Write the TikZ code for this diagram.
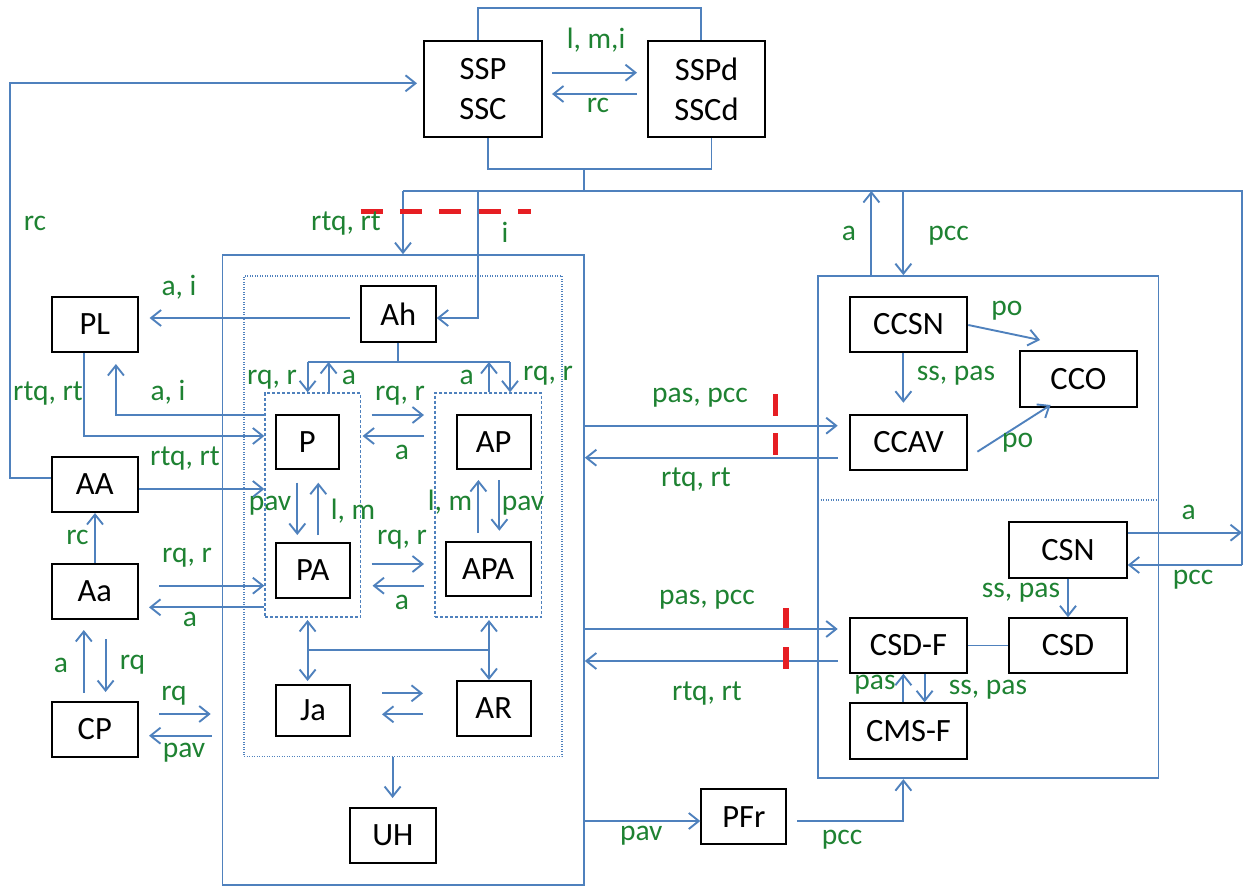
\documentclass[tikz,border=0pt]{standalone}
\usepackage{fontspec}
\setmainfont{Carlito}
\usetikzlibrary{arrows.meta}
\definecolor{lnblue}{RGB}{79,129,189}
\definecolor{lblgreen}{RGB}{30,130,50}
\definecolor{mkred}{RGB}{230,30,35}
\tikzset{
  bx/.style={draw=black, line width=2pt, fill=white, inner sep=0pt, font=\fontsize{32.5}{40}\selectfont, align=center},
  cont/.style={draw=lnblue, line width=1.7pt, inner sep=0pt},
  dbox/.style={draw=lnblue, line width=1.3pt, dash pattern=on 3pt off 2pt, inner sep=0pt},
  dotbox/.style={draw=lnblue, line width=1.1pt, dash pattern=on 1pt off 1.5pt, inner sep=0pt},
  ln/.style={draw=lnblue, line width=1.9pt},
  ar/.style={ln, -{Straight Barb[length=10pt,width=16pt]}},
  arb/.style={ln, {Straight Barb[length=10pt,width=16pt]}-{Straight Barb[length=10pt,width=16pt]}},
  lbl/.style={text=lblgreen, font=\fontsize{29.5}{34}\selectfont, inner sep=0pt, text height=0.7em, text depth=0.2em},
  redmark/.style={draw=mkred, line width=5.5pt},
}
\begin{document}
\begin{tikzpicture}[x=1pt,y=-1pt]
\useasboundingbox (0,0) rectangle (1243,886);
% containers
\node[cont, minimum width=361.4pt, minimum height=630pt] (L) at (403.3,570) {};
\node[dotbox, minimum width=318pt, minimum height=480.7pt] (I) at (403,516.35) {};
\node[dbox, minimum width=95.6pt, minimum height=224pt] (D1) at (312.8,505) {};
\node[dbox, minimum width=106.7pt, minimum height=224pt] (D2) at (488.35,505) {};
\node[cont, minimum width=340.4pt, minimum height=502.3pt] (R) at (988.2,527.15) {};
\coordinate (sepL) at (818,500);
\coordinate (sepR) at (1158.4,500);
\draw[dotbox] (sepL) -- (sepR);
% boxes
\node[bx, minimum width=118pt, minimum height=96pt] (SSP) at (483,89) {SSP\\SSC};
\node[bx, minimum width=117pt, minimum height=96pt] (SSPd) at (706.5,89) {SSPd\\SSCd};
\node[bx, minimum width=85.6pt, minimum height=55pt] (PL) at (94.8,324.5) {PL};
\node[bx, minimum width=75pt, minimum height=55.7pt] (Ah) at (398.2,313.9) {Ah};
\node[bx, minimum width=63.4pt, minimum height=54pt] (P) at (307.3,442) {P};
\node[bx, minimum width=74pt, minimum height=54pt] (AP) at (493.7,442) {AP};
\node[bx, minimum width=74.4pt, minimum height=54.7pt] (PA) at (312.8,570.4) {PA};
\node[bx, minimum width=85pt, minimum height=54.3pt] (APA) at (488.1,568.9) {APA};
\node[bx, minimum width=85.6pt, minimum height=55pt] (AA) at (94.8,484.5) {AA};
\node[bx, minimum width=85.6pt, minimum height=55pt] (Aa) at (94.8,591.5) {Aa};
\node[bx, minimum width=85.6pt, minimum height=55pt] (CP) at (94.8,729.2) {CP};
\node[bx, minimum width=74.7pt, minimum height=50.7pt] (Ja) at (313,710.4) {Ja};
\node[bx, minimum width=74pt, minimum height=55pt] (AR) at (493.7,708.2) {AR};
\node[bx, minimum width=85.7pt, minimum height=55pt] (UH) at (392.9,835.5) {UH};
\node[bx, minimum width=117.6pt, minimum height=54.4pt] (CCSN) at (908.5,324.5) {CCSN};
\node[bx, minimum width=117.3pt, minimum height=56pt] (CCO) at (1078.4,378.7) {CCO};
\node[bx, minimum width=117.6pt, minimum height=55pt] (CCAV) at (908.5,442.5) {CCAV};
\node[bx, minimum width=117.7pt, minimum height=56pt] (CSN) at (1067.9,549.7) {CSN};
\node[bx, minimum width=117.6pt, minimum height=54.4pt] (CSDF) at (908.5,645.5) {CSD-F};
\node[bx, minimum width=117.7pt, minimum height=54.4pt] (CSD) at (1067.9,645.5) {CSD};
\node[bx, minimum width=117.6pt, minimum height=56pt] (CMSF) at (908.5,731.3) {CMS-F};
\node[bx, minimum width=85pt, minimum height=54.7pt] (PFr) at (743.8,816.7) {PFr};
% top SSP loops
\draw[ln] (SSP.north -| 478,0) -- (478,8) -- (701,8) -- (SSPd.north -| 701,0);
\draw[ar] (552,72.7) -- (637,72.7);
\draw[ar] (637,94) -- (552,94);
\draw[ln] (SSP.south -| 488,0) -- (488,169) -- (711.5,169) -- (SSPd.south -| 711.5,0);
\coordinate (jn) at (584,169);
\draw[ln] (jn) -- (584,191);
\draw[ln] (403,191) -- (1242,191) -- (1242,565);
\draw[ar] (1242,565) -- (CSN.east |- 0,565);
\draw[ar] (403,191) -- (L.north -| 403,0);
\draw[ar] (477.6,191) -- (477.6,318) -- (Ah.east |- 0,318);
\draw[ar, shorten >=6pt] (AA.west |- 0,478) -- (10,478) -- (10,83.3) -- (SSP.west |- 0,83.3);
\draw[ar] (R.north -| 871.4,0) -- (871.4,191);
\draw[ar] (903.4,191) -- (R.north -| 903.4,0);
% Ah
\draw[ar, shorten >=11pt, shorten <=10pt] (Ah.west |- 0,318) -- (PL.east |- 0,318);
\draw[ln] (Ah.south) -- (Ah.south |- 0,362);
\draw[ln] (307.6,362) -- (510,362);
\draw[ar] (307.6,362) -- (D1.north -| 307.6,0);
\draw[ar] (D1.north -| 328.6,0) -- (328.6,362);
\draw[ar] (D2.north -| 489,0) -- (489,362);
\draw[ar] (510,362) -- (D2.north -| 510,0);
% P / AP
\draw[ar] (371.7,415) -- (424,415);
\draw[ar] (424,436) -- (362.6,436);
\draw[ar] (371.7,564) -- (424,564);
\draw[ar] (424,585.7) -- (372.5,585.7);
\draw[ar] (297.3,482.7) -- (297.3,535);
\draw[ar] (318.3,535) -- (318.3,482.7);
\draw[ar] (478.4,533) -- (478.4,480);
\draw[ar] (499.4,480) -- (499.4,530.7);
% left side
\draw[ar] (PL.south -| 83.8,0) -- (83.8,436) -- (D1.west |- 0,436);
\draw[ar, shorten >=11pt] (D1.west |- 0,415) -- (115.9,415) -- (PL.south -| 115.9,0);
\draw[ar] (AA.east |- 0,489) -- (D1.west |- 0,489);
\draw[ar] (Aa.north -| 95,0) -- (AA.south -| 95,0);
\draw[ar] (159,585.7) -- (D1.west |- 0,585.7);
\draw[ar] (D1.west |- 0,607.3) -- (149,607.3);
\draw[ar] (83.8,692.7) -- (83.8,630);
\draw[ar] (105.6,639) -- (105.6,692);
\draw[ar] (159,714) -- (210.7,714);
\draw[ar] (211.5,735.7) -- (149,735.7);
% Ja / AR
\draw[arb] (307.6,620) -- (307.6,681);
\draw[arb] (489,620) -- (489,680);
\draw[ln] (307.6,650) -- (489,650);
\draw[ar] (382,693.3) -- (423,693.3);
\draw[ar] (423,714.3) -- (382,714.3);
\draw[ar] (I.south -| 392.6,0) -- (392.6,798);
% middle
\draw[ar, shorten >=11pt] (L.east |- 0,425.7) -- (CCAV.west |- 0,425.7);
\draw[ar, shorten <=11pt] (CCAV.west |- 0,457.7) -- (L.east |- 0,457.7);
\draw[ar, shorten >=11pt] (L.east |- 0,629) -- (CSDF.west |- 0,629);
\draw[ar, shorten <=11pt] (CSDF.west |- 0,661) -- (L.east |- 0,661);
\draw[ar] (L.east |- 0,821) -- (PFr.west |- 0,821);
\draw[ar] (797,821) -- (903.4,821) -- (R.south -| 903.4,0);
% right
\draw[ar] (CCSN.east |- 0,325) -- (1040,340);
\draw[ar] (CCSN.south -| 903.4,0) -- (903.4,402.7);
\draw[ar] (977.4,451.7) -- (1050.6,405);
\draw[ar] (CSN.east |- 0,532.7) -- (1242,532.7);
\draw[ar] (CSN.south -| 1068,0) -- (CSD.north -| 1068,0);
\draw[ln] (CSDF.east) -- (CSD.west);
\draw[ar] (CMSF.north -| 903.4,0) -- (CSDF.south -| 903.4,0);
\draw[ar] (CSDF.south -| 924.6,0) -- (CMSF.north -| 924.6,0);
% red marks
\draw[redmark, dash pattern=on 22pt off 17.3pt] (360.6,211.7) -- (530.6,211.7);
\draw[redmark] (775.3,394.3) -- (775.3,416);
\draw[redmark] (775.3,433.3) -- (775.3,455);
\draw[redmark] (786,608) -- (786,628.3);
\draw[redmark] (786,647.3) -- (786,669);
% labels
\node[lbl] (t1) at (596,46) {l, m,i};
\node[lbl] (t2) at (598,110) {rc};
\node[lbl] (t3) at (346,228) {rtq, rt};
\node[lbl] (t4) at (505,240) {i};
\node[lbl] (t5) at (35,228) {rc};
\node[lbl] (t6) at (849,238) {a};
\node[lbl] (t7) at (948.5,238) {pcc};
\node[lbl] (t8) at (179,293) {a, i};
\node[lbl] (t9) at (272,381.7) {rq, r};
\node[lbl] (t10) at (349,382) {a};
\node[lbl] (t11) at (466.6,382) {a};
\node[lbl] (t12) at (548,378) {rq, r};
\node[lbl] (t13) at (48,398) {rtq, rt};
\node[lbl] (t14) at (168,398) {a, i};
\node[lbl] (t15) at (400,398) {rq, r};
\node[lbl] (t16) at (402,456.7) {a};
\node[lbl] (t17) at (185,463) {rtq, rt};
\node[lbl] (t18) at (270,508) {pav};
\node[lbl] (t19) at (353,516.7) {l, m};
\node[lbl] (t20) at (450,508) {l, m};
\node[lbl] (t21) at (523,508) {pav};
\node[lbl] (t22) at (77.5,541.7) {rc};
\node[lbl] (t23) at (187,560) {rq, r};
\node[lbl] (t24) at (402,541.7) {rq, r};
\node[lbl] (t25) at (402,606.7) {a};
\node[lbl] (t26) at (190,624) {a};
\node[lbl] (t27) at (61,670) {a};
\node[lbl] (t28) at (132.5,666.7) {rq};
\node[lbl] (t29) at (174,698) {rq};
\node[lbl] (t30) at (184,755) {pav};
\node[lbl] (t31) at (700,400) {pas, pcc};
\node[lbl] (t32) at (696,484) {rtq, rt};
\node[lbl] (t33) at (707,602) {pas, pcc};
\node[lbl] (t34) at (707,698.3) {rtq, rt};
\node[lbl] (t35) at (1007,313) {po};
\node[lbl] (t36) at (956,378) {ss, pas};
\node[lbl] (t37) at (1017.6,445) {po};
\node[lbl] (t38) at (1188.8,516.7) {a};
\node[lbl] (t39) at (1193,581.7) {pcc};
\node[lbl] (t40) at (1021,595) {ss, pas};
\node[lbl] (t41) at (875,687.3) {pas};
\node[lbl] (t42) at (988,691.7) {ss, pas};
\node[lbl] (t43) at (641.3,838.3) {pav};
\node[lbl] (t44) at (842,841.7) {pcc};
\end{tikzpicture}
\end{document}
